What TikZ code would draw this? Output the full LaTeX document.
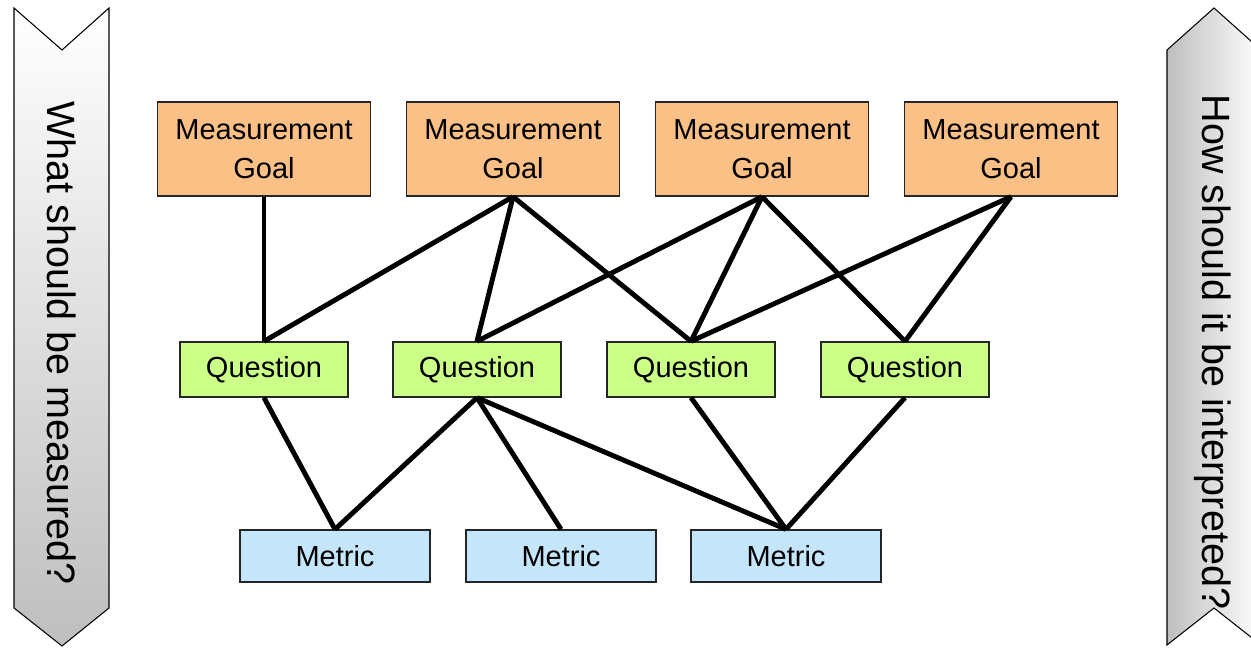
\documentclass[tikz,border=0pt]{standalone}
\usepackage{fontspec}
\setmainfont{Liberation Sans}

\definecolor{goalorange}{RGB}{250,192,134}
\definecolor{questiongreen}{RGB}{204,255,136}
\definecolor{metricblue}{RGB}{197,230,250}
\definecolor{bannergray}{RGB}{190,190,190}

\begin{document}
\begin{tikzpicture}[x=0.02cm,y=-0.02cm]
\tikzset{
  boxnode/.style={rectangle,draw=black!85,line width=0.8pt,inner sep=0pt,align=center,font=\fontsize{16.5}{22.5}\selectfont},
  goalnode/.style={boxnode,fill=goalorange,minimum width=4.26cm,minimum height=1.88cm},
  questionnode/.style={boxnode,fill=questiongreen,minimum width=3.36cm,minimum height=1.1cm},
  metricnode/.style={boxnode,fill=metricblue,minimum width=3.8cm,minimum height=1.04cm},
  link/.style={line width=2.8pt,black},
  banner/.style={draw=black,line width=0.6pt},
  bannertext/.style={font=\fontsize{22.5}{27}\selectfont,rotate=-90}
}
\clip (0,0) rectangle (1251,648);
\shade[banner,top color=white,bottom color=bannergray] (14,8) -- (62,50) -- (109,8) -- (109,608) -- (62,646) -- (14,608) -- cycle;
\shade[banner,left color=bannergray,right color=white] (1167,50) -- (1214,8) -- (1261,50) -- (1261,645) -- (1214,608) -- (1167,645) -- cycle;
\node[bannertext] (n_what) at (62,343) {What should be measured?};
\node[bannertext] (n_how) at (1213,352) {How should it be interpreted?};
\node[goalnode] (n_g1) at (264,149) {Measurement\\Goal};
\node[goalnode] (n_g2) at (513,149) {Measurement\\Goal};
\node[goalnode] (n_g3) at (762,149) {Measurement\\Goal};
\node[goalnode] (n_g4) at (1011,149) {Measurement\\Goal};
\node[questionnode] (n_q1) at (264,369.5) {Question};
\node[questionnode] (n_q2) at (477,369.5) {Question};
\node[questionnode] (n_q3) at (691,369.5) {Question};
\node[questionnode] (n_q4) at (905,369.5) {Question};
\node[metricnode] (n_m1) at (335,556) {Metric};
\node[metricnode] (n_m2) at (561,556) {Metric};
\node[metricnode] (n_m3) at (786,556) {Metric};
\draw[link] (n_g1.south) -- (n_q1.north);
\draw[link] (n_g2.south) -- (n_q1.north);
\draw[link] (n_g2.south) -- (n_q2.north);
\draw[link] (n_g2.south) -- (n_q3.north);
\draw[link] (n_g3.south) -- (n_q2.north);
\draw[link] (n_g3.south) -- (n_q3.north);
\draw[link] (n_g3.south) -- (n_q4.north);
\draw[link] (n_g4.south) -- (n_q3.north);
\draw[link] (n_g4.south) -- (n_q4.north);
\draw[link] (n_q1.south) -- (n_m1.north);
\draw[link] (n_q2.south) -- (n_m1.north);
\draw[link] (n_q2.south) -- (n_m2.north);
\draw[link] (n_q2.south) -- (n_m3.north);
\draw[link] (n_q3.south) -- (n_m3.north);
\draw[link] (n_q4.south) -- (n_m3.north);
\end{tikzpicture}
\end{document}
